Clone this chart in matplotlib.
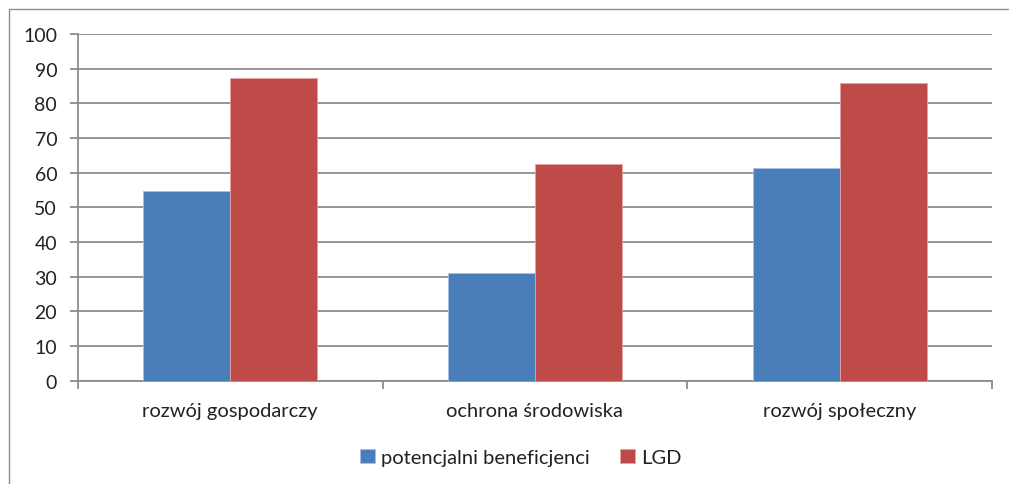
import matplotlib
matplotlib.use('Agg')
import matplotlib.pyplot as plt
from matplotlib.patches import Rectangle
import numpy as np

# dane
kategorie = ['rozwój gospodarczy', 'ochrona środowiska', 'rozwój społeczny']
beneficjenci = [54.8, 31.2, 61.3]
lgd = [87.4, 62.4, 86.0]
serie = ['potencjalni beneficjenci', 'LGD']

plt.rcParams['font.family'] = ['Lato', 'DejaVu Sans']

fig = plt.figure(figsize=(10.09, 4.85), dpi=100)
ax = fig.add_axes([0.0773, 0.213, 0.983 - 0.0773, 0.9278 - 0.213])

x = np.arange(len(kategorie))
w = 0.2857
ax.bar(x - w / 2, beneficjenci, w, color='#4a7ebb', edgecolor='#a9c1e0', linewidth=0.6,
       label=serie[0], zorder=3)
ax.bar(x + w / 2, lgd, w, color='#be4b48', edgecolor='#e3a5a3', linewidth=0.6,
       label=serie[1], zorder=3)

ax.set_xlim(-0.5, len(kategorie) - 0.5)
ax.set_ylim(0, 100)
ax.set_yticks(np.arange(0, 101, 10))
ax.yaxis.grid(True, color='#8c8c8c', linewidth=1.3, zorder=0)

ax.set_xticks(x)
ax.set_xticklabels(kategorie)
ax.set_xticks(np.arange(-0.5, len(kategorie), 1), minor=True)
ax.tick_params(axis='x', which='major', length=0, pad=15, labelsize=14.5, colors='#222222')
ax.tick_params(axis='x', which='minor', length=6, color='#8c8c8c', width=1.3)
ax.tick_params(axis='y', length=6, color='#8c8c8c', width=1.3, labelsize=14,
               colors='#222222', pad=9)
ax.tick_params(axis='x', labelcolor='#222222')

for s in ['top', 'right']:
    ax.spines[s].set_visible(False)
for s in ['left', 'bottom']:
    ax.spines[s].set_color('#8c8c8c')
    ax.spines[s].set_linewidth(1.3)

leg = fig.legend(loc='center', bbox_to_anchor=(0.516, 0.055), ncol=2, frameon=False,
                 fontsize=14.5, handlelength=0.75, handleheight=0.75, handletextpad=0.3,
                 columnspacing=1.5)
for t in leg.get_texts():
    t.set_color('#222222')

# ramka wykresu
fig.patches.append(Rectangle((9 / 1009, -0.1), 1.2, 1 - 10 / 485 + 0.1,
                             transform=fig.transFigure, fill=False,
                             edgecolor='#8c8c8c', linewidth=1.0))

fig.savefig('out.png', dpi=100)
